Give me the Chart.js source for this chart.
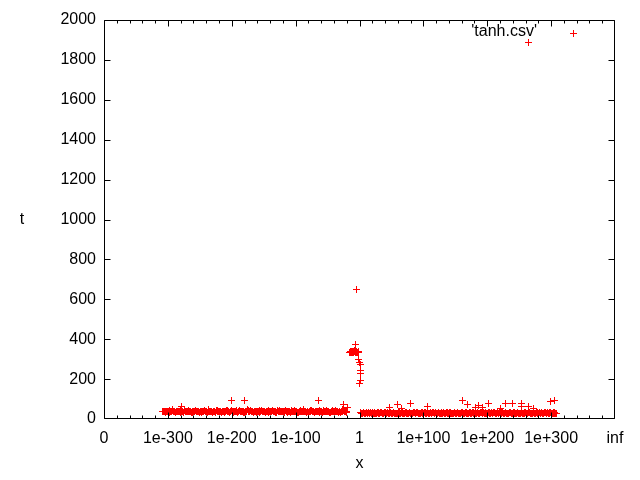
<!DOCTYPE html>
<html>
<head>
<meta charset="utf-8">
<script src="https://cdn.jsdelivr.net/npm/chart.js@4/dist/chart.umd.min.js"></script>
<style>
html,body{margin:0;padding:0;background:#fff;}
canvas{display:block;}
</style>
</head>
<body>
<canvas id="c" width="640" height="480"></canvas>
<script>
// x values are decimal exponents of the input (x = 1e<value>); -400 stands for 0, 400 for inf
const xTickValues = [-400, -300, -200, -100, 0, 100, 200, 300, 400];
const xTickLabels = ['0', '1e-300', '1e-200', '1e-100', '1', '1e+100', '1e+200', '1e+300', 'inf'];
const yTickValues = [0, 200, 400, 600, 800, 1000, 1200, 1400, 1600, 1800, 2000];
const seriesName = "'tanh.csv'";

// dense band of tiny inputs [exponent, t]
const bandTinyA = [[-308,37],[-306,39],[-303,35],[-301,38],[-298,41],[-296,37],[-293,46],[-291,38],[-288,34],[-286,39],[-283,37],[-281,42],[-278,38],[-276,35],[-273,39],[-271,37],[-268,45],[-266,38],[-263,34],[-261,40],[-258,37],[-256,41],[-253,38],[-251,35],[-248,39],[-246,37],[-243,42],[-241,38],[-238,34],[-236,47],[-233,37],[-231,39],[-228,38],[-226,35],[-223,41],[-221,37],[-218,38],[-216,34],[-213,39],[-211,37],[-208,42],[-206,38],[-203,35],[-201,45],[-198,37],[-196,40],[-193,38],[-191,34],[-188,41],[-186,37],[-183,38],[-181,35],[-178,39],[-176,46],[-173,37],[-171,42],[-168,38],[-166,34],[-163,39],[-161,37],[-158,38],[-156,35],[-153,41],[-151,37],[-148,40],[-146,38],[-143,34],[-141,39],[-138,37],[-136,42],[-133,38],[-131,35],[-128,45],[-126,37],[-123,39],[-121,38],[-118,34],[-116,41],[-113,37],[-111,38],[-108,35],[-106,39],[-103,37],[-101,42],[-98,38],[-96,34],[-93,40],[-91,37],[-88,46],[-86,38],[-83,35],[-81,39],[-78,37],[-76,41],[-73,38],[-71,34],[-68,39],[-66,37],[-63,42],[-61,38],[-58,35],[-56,39],[-53,37],[-51,45],[-48,38],[-46,34],[-43,39],[-41,37],[-38,41],[-36,38],[-33,35],[-31,39],[-28,37],[-26,47],[-23,38],[-21,35],[-20,39]];
const bandTinyB = [[-307,39],[-304.5,36],[-302,40],[-299.5,37],[-297,35],[-294.5,39],[-292,41],[-289.5,37],[-287,36],[-284.5,40],[-282,38],[-279.5,35],[-277,39],[-274.5,41],[-272,36],[-269.5,38],[-267,40],[-264.5,37],[-262,35],[-259.5,39],[-257,42],[-254.5,36],[-252,38],[-249.5,40],[-247,35],[-244.5,38],[-242,41],[-239.5,37],[-237,36],[-234.5,40],[-232,38],[-229.5,35],[-227,39],[-224.5,41],[-222,36],[-219.5,38],[-217,40],[-214.5,37],[-212,35],[-209.5,39],[-207,42],[-204.5,36],[-202,38],[-199.5,40],[-197,35],[-194.5,38],[-192,41],[-189.5,37],[-187,36],[-184.5,40],[-182,38],[-179.5,35],[-177,39],[-174.5,41],[-172,36],[-169.5,38],[-167,40],[-164.5,37],[-162,35],[-159.5,39],[-157,42],[-154.5,36],[-152,38],[-149.5,40],[-147,35],[-144.5,38],[-142,41],[-139.5,37],[-137,36],[-134.5,40],[-132,38],[-129.5,35],[-127,39],[-124.5,41],[-122,36],[-119.5,38],[-117,40],[-114.5,37],[-112,35],[-109.5,39],[-107,42],[-104.5,36],[-102,38],[-99.5,40],[-97,35],[-94.5,38],[-92,41],[-89.5,37],[-87,36],[-84.5,40],[-82,38],[-79.5,35],[-77,39],[-74.5,41],[-72,36],[-69.5,38],[-67,40],[-64.5,37],[-62,35],[-59.5,39],[-57,42],[-54.5,36],[-52,38],[-49.5,40],[-47,35],[-44.5,38],[-42,41],[-39.5,37],[-37,36],[-34.5,40],[-32,38],[-29.5,35],[-27,39],[-24.5,41],[-22,36]];

// dense band of large inputs [exponent, t]
const bandHugeA = [[2,31],[4,29],[7,32],[9,30],[12,28],[14,31],[17,33],[19,29],[22,30],[24,32],[27,28],[29,31],[32,30],[34,35],[37,29],[39,31],[42,30],[44,32],[47,28],[49,31],[52,29],[54,33],[57,30],[59,28],[62,31],[64,30],[67,32],[69,29],[72,31],[74,30],[77,28],[79,33],[82,30],[84,31],[87,29],[89,32],[92,30],[94,28],[97,31],[99,30],[102,32],[104,29],[107,31],[109,30],[112,28],[114,34],[117,30],[119,31],[122,29],[124,32],[127,30],[129,28],[132,31],[134,30],[137,32],[139,29],[142,31],[144,30],[147,28],[149,33],[152,30],[154,31],[157,29],[159,32],[162,30],[164,28],[167,31],[169,30],[172,32],[174,29],[177,31],[179,30],[182,28],[184,35],[187,30],[189,31],[192,29],[194,32],[197,30],[199,28],[202,31],[204,30],[207,32],[209,29],[212,31],[214,30],[217,28],[219,33],[222,30],[224,31],[227,29],[229,32],[232,30],[234,28],[237,31],[239,30],[242,32],[244,29],[247,31],[249,30],[252,28],[254,34],[257,30],[259,31],[262,29],[264,32],[267,30],[269,28],[272,31],[274,30],[277,32],[279,29],[282,31],[284,30],[287,28],[289,33],[292,30],[294,31],[297,29],[299,32],[302,30],[304,28],[306,31],[308,30]];
const bandHugeB = [[3,30],[5.5,32],[8,29],[10.5,31],[13,30],[15.5,28],[18,31],[20.5,32],[23,29],[25.5,30],[28,31],[30.5,29],[33,32],[35.5,30],[38,28],[40.5,31],[43,30],[45.5,29],[48,32],[50.5,30],[53,31],[55.5,28],[58,30],[60.5,32],[63,29],[65.5,31],[68,30],[70.5,28],[73,32],[75.5,29],[78,31],[80.5,30],[83,28],[85.5,32],[88,30],[90.5,31],[93,29],[95.5,30],[98,32],[100.5,28],[103,31],[105.5,30],[108,29],[110.5,32],[113,30],[115.5,31],[118,28],[120.5,30],[123,32],[125.5,29],[128,31],[130.5,30],[133,28],[135.5,32],[138,30],[140.5,31],[143,29],[145.5,30],[148,32],[150.5,28],[153,31],[155.5,30],[158,29],[160.5,32],[163,30],[165.5,31],[168,28],[170.5,30],[173,32],[175.5,29],[178,31],[180.5,30],[183,28],[185.5,32],[188,30],[190.5,31],[193,29],[195.5,30],[198,32],[200.5,28],[203,31],[205.5,30],[208,29],[210.5,32],[213,30],[215.5,31],[218,28],[220.5,30],[223,32],[225.5,29],[228,31],[230.5,30],[233,28],[235.5,32],[238,30],[240.5,31],[243,29],[245.5,30],[248,32],[250.5,28],[253,31],[255.5,30],[258,29],[260.5,32],[263,30],[265.5,31],[268,28],[270.5,30],[273,32],[275.5,29],[278,31],[280.5,30],[283,28],[285.5,32],[288,30],[290.5,31],[293,29],[295.5,30],[298,32],[300.5,28],[303,31],[305,30],[307,29]];

// cluster near 1 [exponent, t]
const nearOne = [[-15,333],[-14,336],[-13,331],[-12,337],[-11,334],[-10,338],[-9,332],[-8,336],[-7,334],[-6,338],[-5,333],[-4,336],[-3,331],[-2,335],[-1,333],[-14.5,334],[-12.5,332],[-9.5,335],[-6.5,331],[-3.5,334],[-1.5,336],[-13.5,339],[-10.5,340],[-7.5,341],[-6.3,372],[-4.7,648],[-1.3,300],[-0.2,284],[1.2,271],[1.2,241],[1.2,226],[1.5,192],[0.5,180]];

// scattered slow outliers [exponent, t]
const outliers = [[-279,65],[-201,95],[-180,95],[-64,95],[-25,75],[-19,60],[47,60],[60,75],[66,55],[80,80],[107,65],[162,95],[169,75],[182,60],[187,70],[193,60],[202,80],[221,55],[229,80],[240,80],[253,80],[253,65],[264,65],[273,55],[299,87],[305,94],[265,1889]];

const allPoints = [].concat(bandTinyA, bandTinyB, bandHugeA, bandHugeB, nearOne, outliers).map(p => ({x: p[0], y: p[1]}));

const FONT = 'Liberation Sans, Arial, sans-serif';
const RED = '#ff0000';

// crisp gnuplot-like "+" marker
const plus = document.createElement('canvas');
plus.width = 7; plus.height = 7;
(function () {
  const g = plus.getContext('2d');
  g.fillStyle = RED;
  g.fillRect(0, 3, 7, 1);
  g.fillRect(3, 0, 1, 7);
})();

const gnuplotFrame = {
  id: 'gnuplotFrame',
  beforeDatasetsDraw(chart) {
    chart.ctx.imageSmoothingEnabled = false;
  },
  afterDatasetsDraw(chart) {
    const ctx = chart.ctx;
    const a = chart.chartArea;
    const xs = chart.scales.x, ys = chart.scales.y;
    const L = Math.round(a.left) + 0.5, R = Math.round(a.right) - 0.5;
    const T = Math.round(a.top) + 0.5, B = Math.round(a.bottom) - 0.5;
    ctx.save();
    ctx.strokeStyle = '#000';
    ctx.lineWidth = 1;
    ctx.beginPath();
    ctx.rect(L, T, R - L, B - T);
    yTickValues.forEach(v => {
      const y = Math.min(B, Math.max(T, Math.round(ys.getPixelForValue(v)) + 0.5));
      ctx.moveTo(L, y); ctx.lineTo(L + 6, y);
      ctx.moveTo(R, y); ctx.lineTo(R - 6, y);
    });
    for (let v = xs.min; v <= xs.max; v += 20) {
      const x = Math.min(R, Math.max(L, Math.round(xs.getPixelForValue(v)) + 0.5));
      const len = (v % 100 === 0) ? 6 : 3;
      ctx.moveTo(x, B); ctx.lineTo(x, B - len);
      ctx.moveTo(x, T); ctx.lineTo(x, T + len);
    }
    ctx.stroke();
    // key sample
    ctx.imageSmoothingEnabled = false;
    ctx.drawImage(plus, 570, 30);
    // axis titles and key text
    ctx.fillStyle = '#000';
    ctx.font = '16px ' + FONT;
    ctx.textAlign = 'center';
    ctx.textBaseline = 'middle';
    ctx.fillText('x', (a.left + a.right) / 2, 464);
    ctx.fillText('t', 22, (a.top + a.bottom) / 2);
    ctx.textAlign = 'right';
    ctx.fillText(seriesName, 537, 32);
    ctx.restore();
  }
};

new Chart(document.getElementById('c'), {
  type: 'scatter',
  data: {
    datasets: [{
      label: seriesName,
      data: allPoints,
      pointStyle: plus,
      pointRadius: 4,
      borderColor: RED,
      backgroundColor: RED,
      showLine: false
    }]
  },
  options: {
    responsive: false,
    animation: false,
    devicePixelRatio: 1,
    layout: {padding: {left: 0, right: 25, top: 20, bottom: 0}},
    plugins: {legend: {display: false}, tooltip: {enabled: false}},
    scales: {
      x: {
        type: 'linear',
        min: -400, max: 400,
        afterBuildTicks: s => { s.ticks = xTickValues.map(v => ({value: v})); },
        afterFit: s => { s.height = 61; },
        grid: {display: false, drawTicks: false},
        border: {display: false},
        ticks: {
          autoSkip: false, maxRotation: 0, padding: 10,
          color: '#000', font: {family: FONT, size: 16},
          callback: v => xTickLabels[xTickValues.indexOf(v)]
        }
      },
      y: {
        type: 'linear',
        min: 0, max: 2000,
        afterBuildTicks: s => { s.ticks = yTickValues.map(v => ({value: v})); },
        afterFit: s => { s.width = 104; },
        grid: {display: false, drawTicks: false},
        border: {display: false},
        ticks: {
          padding: 8, color: '#000', font: {family: FONT, size: 16},
          callback: v => String(v)
        }
      }
    }
  },
  plugins: [gnuplotFrame]
});
</script>
</body>
</html>
